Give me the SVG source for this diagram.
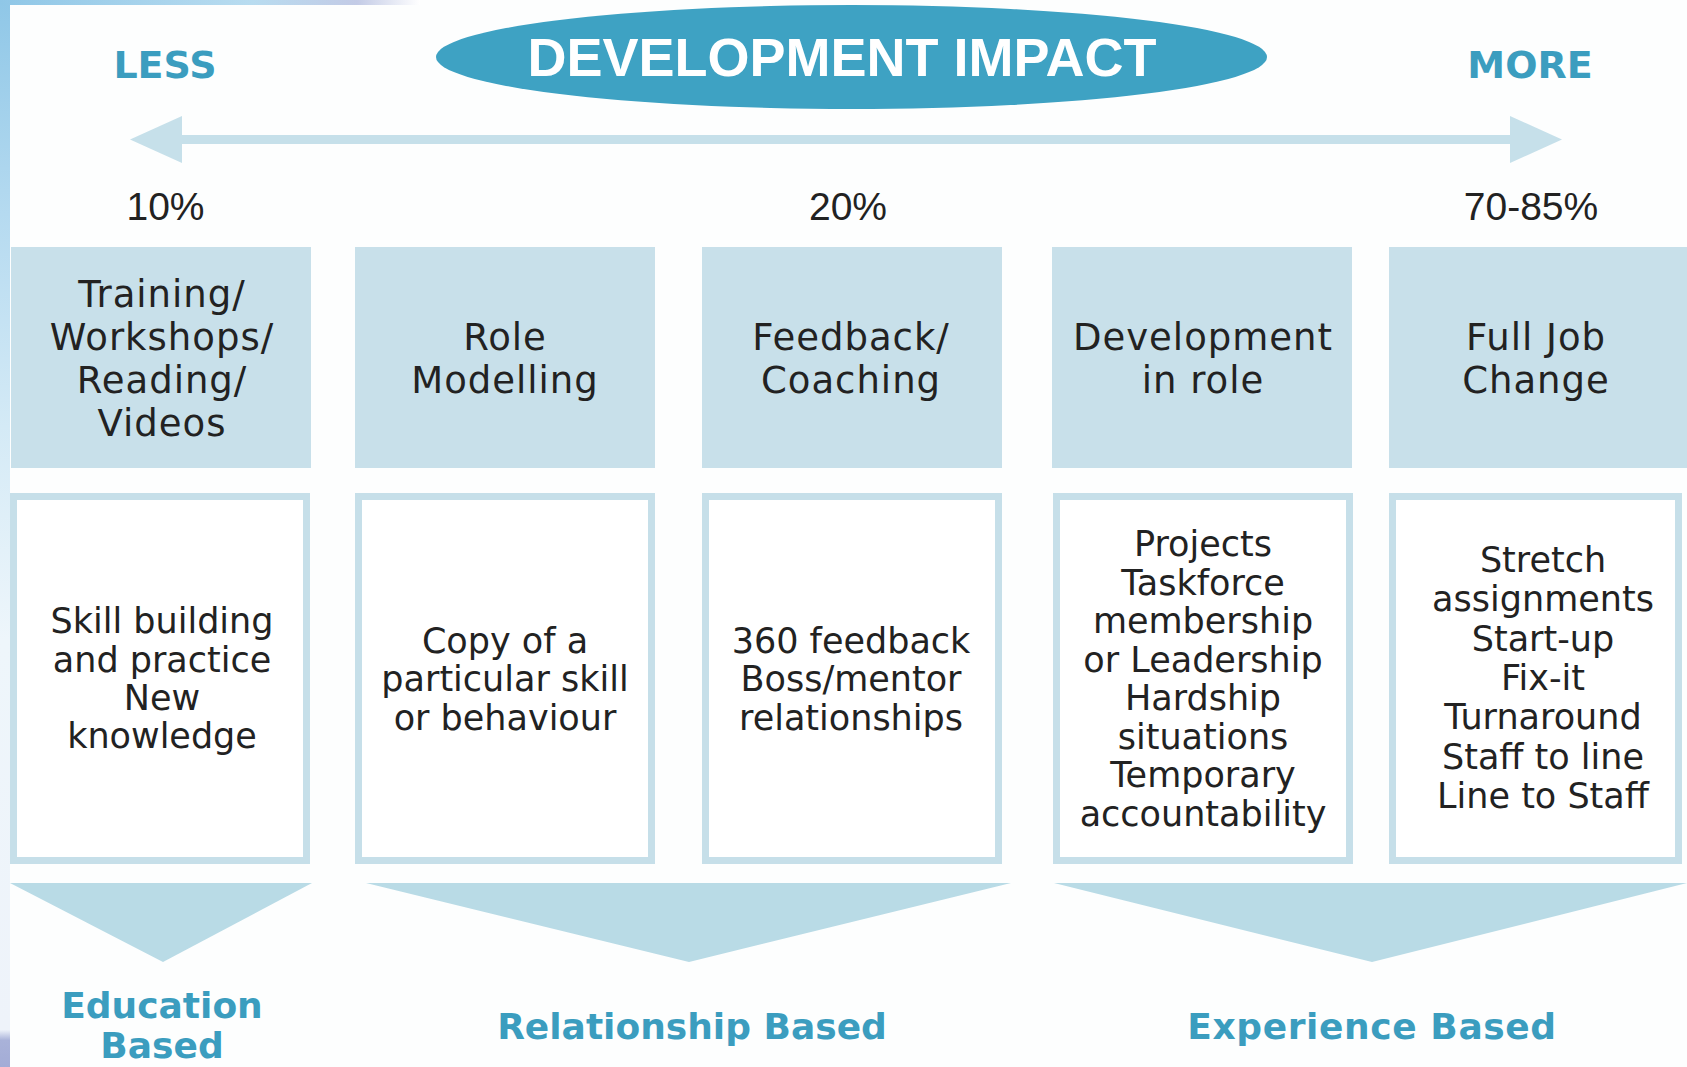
<svg xmlns="http://www.w3.org/2000/svg" width="1687" height="1067" viewBox="0 0 1687 1067">
  <defs>
    <style>
      .hdr { fill: #c8e0ea; }
      .card { fill: #ffffff; stroke: #c6dfe9; stroke-width: 7; }
      .chev { fill: #b9dbe6; }
      .scale { fill: #c6e0ea; }
      .t-hdr { font-family: "DejaVu Sans", "Liberation Sans", sans-serif; font-size: 37px; letter-spacing: 1px; fill: #222222; text-anchor: middle; }
      .t-body { font-family: "DejaVu Sans", "Liberation Sans", sans-serif; font-size: 35px; fill: #222222; text-anchor: middle; }
      .t-pct { font-family: "Liberation Sans", Arial, sans-serif; font-size: 39px; fill: #222222; text-anchor: middle; }
      .t-end { font-family: "DejaVu Sans", "Liberation Sans", sans-serif; font-weight: bold; font-size: 38px; fill: #3b9dbf; text-anchor: middle; }
      .t-cat { font-family: "DejaVu Sans", "Liberation Sans", sans-serif; font-weight: bold; font-size: 36px; fill: #3b9dbf; text-anchor: middle; }
      .t-title { font-family: "Liberation Sans", Arial, sans-serif; font-weight: bold; font-size: 54px; fill: #ffffff; text-anchor: middle; }
    </style>
    <linearGradient id="edgeLeft" x1="0" y1="0" x2="0" y2="1">
      <stop offset="0" stop-color="#8fc7e7"/>
      <stop offset="0.2" stop-color="#b5daf0"/>
      <stop offset="0.4" stop-color="#d4eaf6"/>
      <stop offset="0.6" stop-color="#eef6fb"/>
      <stop offset="0.965" stop-color="#eef3fa"/>
      <stop offset="0.975" stop-color="#a9b2d9"/>
      <stop offset="1" stop-color="#a3acd6"/>
    </linearGradient>
    <linearGradient id="edgeTop" x1="0" y1="0" x2="1" y2="0">
      <stop offset="0" stop-color="#8fc7e7"/>
      <stop offset="0.6" stop-color="#b8dcf0"/>
      <stop offset="0.85" stop-color="#c3cbe6"/>
      <stop offset="1" stop-color="#ffffff"/>
    </linearGradient>
  </defs>

  <!-- page -->
  <rect x="0" y="0" width="1687" height="1067" fill="#fdfefe"/>
  <rect x="0" y="0" width="10" height="1067" fill="url(#edgeLeft)"/>
  <rect x="0" y="0" width="420" height="5" fill="url(#edgeTop)"/>

  <!-- title -->
  <g id="title">
    <ellipse cx="851.5" cy="57" rx="415.5" ry="52" fill="#3ea2c3"/>
    <text class="t-title" x="842" y="76">DEVELOPMENT IMPACT</text>
  </g>

  <g id="scale-ends">
    <text class="t-end" x="165" y="78">LESS</text>
    <text class="t-end" x="1530" y="78">MORE</text>
  </g>

  <!-- impact scale arrow -->
  <g id="connectors">
    <rect class="scale" x="180" y="135" width="1332" height="9"/>
    <polygon class="scale" points="130,139.5 182,116 182,163"/>
    <polygon class="scale" points="1562,139.5 1510,116 1510,163"/>
  </g>

  <g id="percentages">
    <text class="t-pct" x="165.5" y="220">10%</text>
    <text class="t-pct" x="848" y="220">20%</text>
    <text class="t-pct" x="1531" y="220">70-85%</text>
  </g>

  <!-- column 1 -->
  <g id="training">
    <rect class="hdr" x="11" y="247" width="300" height="221"/>
    <text class="t-hdr" x="162" y="307">Training/</text>
    <text class="t-hdr" x="162" y="350">Workshops/</text>
    <text class="t-hdr" x="162" y="393">Reading/</text>
    <text class="t-hdr" x="162" y="436">Videos</text>
  </g>
  <g id="training-detail">
    <rect class="card" x="13.5" y="496.5" width="293" height="364"/>
    <text class="t-body" x="162" y="633">Skill building</text>
    <text class="t-body" x="162" y="672">and practice</text>
    <text class="t-body" x="162" y="710">New</text>
    <text class="t-body" x="162" y="748">knowledge</text>
  </g>

  <!-- column 2 -->
  <g id="role-modelling">
    <rect class="hdr" x="355" y="247" width="300" height="221"/>
    <text class="t-hdr" x="505" y="350">Role</text>
    <text class="t-hdr" x="505" y="393">Modelling</text>
  </g>
  <g id="role-modelling-detail">
    <rect class="card" x="358.5" y="496.5" width="293" height="364"/>
    <text class="t-body" x="505" y="653">Copy of a</text>
    <text class="t-body" x="505" y="691">particular skill</text>
    <text class="t-body" x="505" y="730">or behaviour</text>
  </g>

  <!-- column 3 -->
  <g id="feedback-coaching">
    <rect class="hdr" x="702" y="247" width="300" height="221"/>
    <text class="t-hdr" x="851" y="350">Feedback/</text>
    <text class="t-hdr" x="851" y="393">Coaching</text>
  </g>
  <g id="feedback-coaching-detail">
    <rect class="card" x="705.5" y="496.5" width="293" height="364"/>
    <text class="t-body" x="851" y="653">360 feedback</text>
    <text class="t-body" x="851" y="691">Boss/mentor</text>
    <text class="t-body" x="851" y="730">relationships</text>
  </g>

  <!-- column 4 -->
  <g id="development-in-role">
    <rect class="hdr" x="1052" y="247" width="300" height="221"/>
    <text class="t-hdr" x="1203" y="350">Development</text>
    <text class="t-hdr" x="1203" y="393">in role</text>
  </g>
  <g id="development-in-role-detail">
    <rect class="card" x="1056.5" y="496.5" width="293" height="364"/>
    <text class="t-body" x="1203" y="556">Projects</text>
    <text class="t-body" x="1203" y="595">Taskforce</text>
    <text class="t-body" x="1203" y="633">membership</text>
    <text class="t-body" x="1203" y="672">or Leadership</text>
    <text class="t-body" x="1203" y="710">Hardship</text>
    <text class="t-body" x="1203" y="749">situations</text>
    <text class="t-body" x="1203" y="787">Temporary</text>
    <text class="t-body" x="1203" y="826">accountability</text>
  </g>

  <!-- column 5 -->
  <g id="full-job-change">
    <rect class="hdr" x="1389" y="247" width="298" height="221"/>
    <text class="t-hdr" x="1536" y="350">Full Job</text>
    <text class="t-hdr" x="1536" y="393">Change</text>
  </g>
  <g id="full-job-change-detail">
    <rect class="card" x="1392.5" y="496.5" width="286" height="364"/>
    <text class="t-body" x="1543" y="572">Stretch</text>
    <text class="t-body" x="1543" y="611">assignments</text>
    <text class="t-body" x="1543" y="651">Start-up</text>
    <text class="t-body" x="1543" y="690">Fix-it</text>
    <text class="t-body" x="1543" y="729">Turnaround</text>
    <text class="t-body" x="1543" y="769">Staff to line</text>
    <text class="t-body" x="1543" y="808">Line to Staff</text>
  </g>

  <!-- groupings -->
  <g id="education-based">
    <polygon class="chev" points="10,883 312,883 163,962"/>
    <text class="t-cat" x="162" y="1018">Education</text>
    <text class="t-cat" x="162" y="1058">Based</text>
  </g>
  <g id="relationship-based">
    <polygon class="chev" points="366,883 1011,883 689,962"/>
    <text class="t-cat" x="692" y="1039">Relationship Based</text>
  </g>
  <g id="experience-based">
    <polygon class="chev" points="1054,883 1687,883 1372,962"/>
    <text class="t-cat" x="1372" y="1039" letter-spacing="0.6">Experience Based</text>
  </g>
</svg>
